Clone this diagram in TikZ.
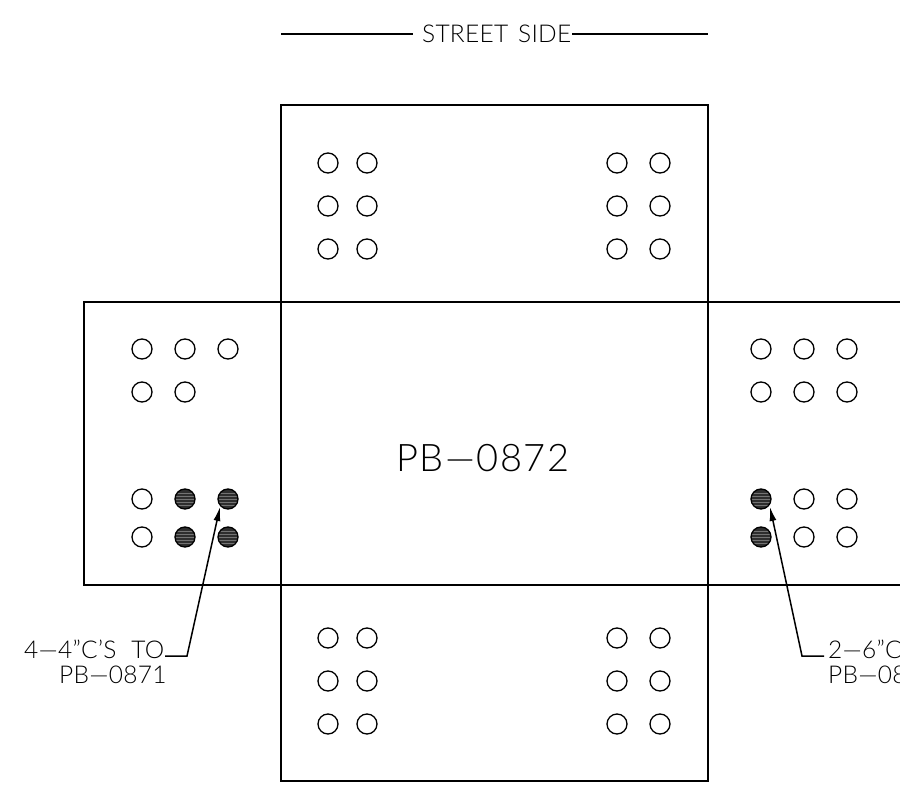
\documentclass[tikz,border=0pt]{standalone}
\usepackage{fontspec}
\setmainfont{Lato Light}
\usetikzlibrary{arrows.meta}
\newfontfamily\cadsmall[LetterSpace=1]{Lato Light}
\newfontfamily\cadbig[LetterSpace=4]{Lato Light}
\tikzset{
  x=1pt,y=-1pt,
  panel/.style={draw=black,line width=1.7pt,fill=none},
  hole/.style={circle,draw=black,line width=1.3pt,minimum size=20pt,inner sep=0pt,fill=white},
  solidhole/.style={hole,fill=black!82,
    path picture={\foreach \d in {-6,-3,0,3,6}{\draw[black!55,line width=0.5pt]
      ([yshift=\d pt]path picture bounding box.west) -- ([yshift=\d pt]path picture bounding box.east);}}},
  leader/.style={draw=black,line width=1.5pt},
  arrowleader/.style={leader,-{Latex[length=14pt,width=7pt]}},
  small/.style={inner sep=0pt,anchor=base west,font=\cadsmall\fontsize{24.5}{25}\selectfont},
  big/.style={inner sep=0pt,anchor=base west,font=\cadbig\fontsize{38}{38}\selectfont},
}
\begin{document}
\begin{tikzpicture}
\useasboundingbox (0,0) rectangle (900,786);
\fill[white] (0,0) rectangle (900,786);
% panels
\draw[panel] (281,105) rectangle (708,302);
\draw[panel] (281,302) rectangle (708,585);
\draw[panel] (281,585) rectangle (708,781);
\draw[panel] (900,302) -- (84,302) -- (84,585) -- (900,585);
% top and bottom hole groups
\foreach \x/\n in {328/a,367/b,617/c,660/d}{
  \foreach \y/\m in {163/1,206/2,249/3}{\node[hole] (t\n\m) at (\x,\y) {};}
  \foreach \y/\m in {638/1,681/2,724/3}{\node[hole] (b\n\m) at (\x,\y) {};}
}
% left holes
\foreach \x/\n in {142/a,185/b,228/c}{\node[hole] (l\n1) at (\x,349) {};}
\foreach \x/\n in {142/a,185/b}{\node[hole] (l\n2) at (\x,392) {};}
\node[hole] (la3) at (142,499) {};
\node[hole] (la4) at (142,537) {};
\node[solidhole] (lb3) at (185,499) {};
\node[solidhole] (lc3) at (228,499) {};
\node[solidhole] (lb4) at (185,537) {};
\node[solidhole] (lc4) at (228,537) {};
% right holes
\foreach \x/\n in {761/a,804/b,847/c}{
  \node[hole] (r\n1) at (\x,349) {};
  \node[hole] (r\n2) at (\x,392) {};
}
\node[solidhole] (ra3) at (761,499) {};
\node[solidhole] (ra4) at (761,537) {};
\foreach \x/\n in {804/b,847/c}{
  \node[hole] (r\n3) at (\x,499) {};
  \node[hole] (r\n4) at (\x,537) {};
}
% texts
\node[small] (street) at (422,43) {STREET\hspace{10pt}SIDE};
\node[big] (pb) at (396,471) {PB—0872};
\node[small] (lt1) at (24,658) {4—4”C’S\hspace{15pt}TO};
\node[small] (lt2) at (59,683) {PB—0871};
\node[small] (rt1) at (828,658) {2—6”C};
\node[small] (rt2) at (828,683) {PB—08};
% street side rules
\coordinate (sl) at (281,34);
\coordinate (sr) at (708,34);
\draw[leader] (sl) -- (413,34);
\draw[leader] (572,34) -- (sr);
% leaders
\coordinate (le) at (187,656);
\coordinate (ltip) at (220,507);
\coordinate (re) at (802,656);
\coordinate (rtip) at (770,507);
\draw[arrowleader] (165,656) -- (le) -- (ltip);
\draw[arrowleader] (824,656) -- (re) -- (rtip);
\end{tikzpicture}
\end{document}
